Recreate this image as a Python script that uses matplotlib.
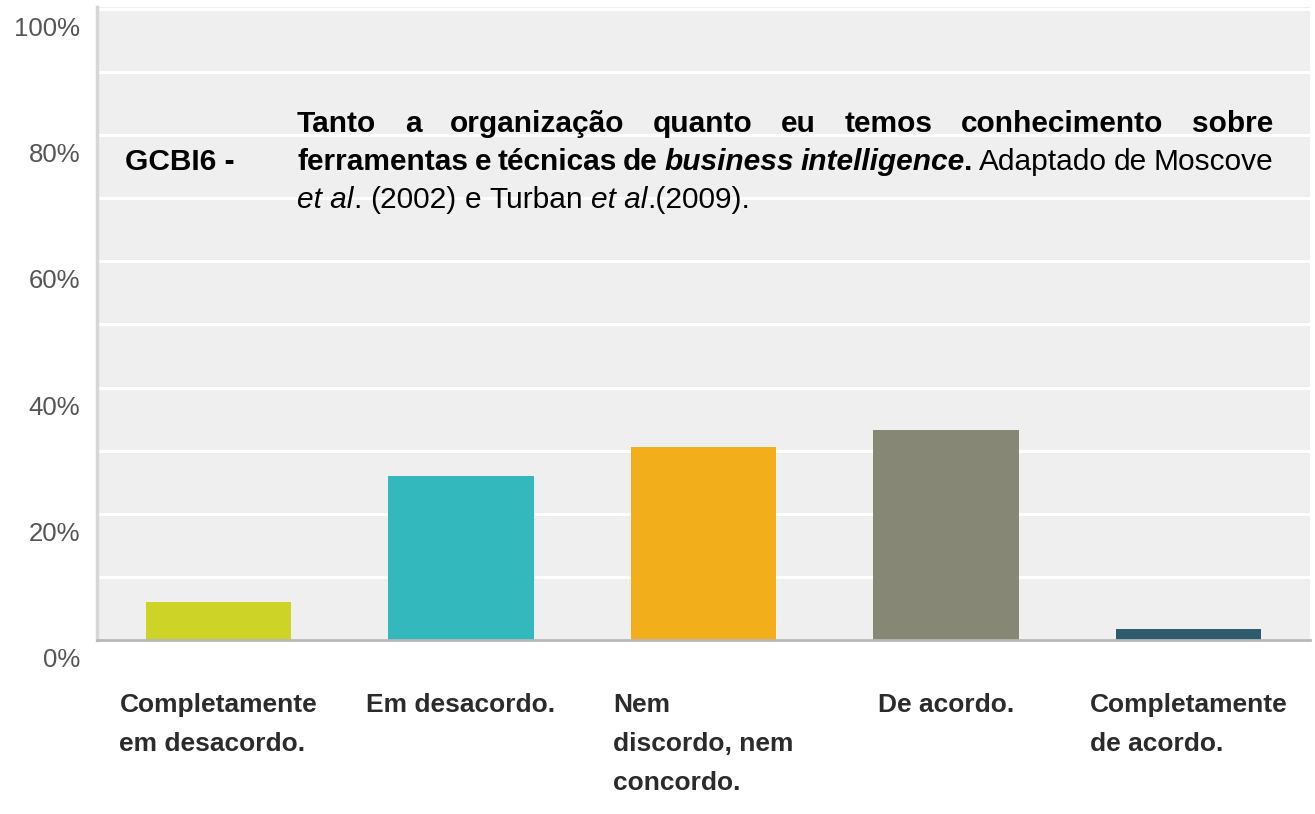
import matplotlib
matplotlib.use("Agg")
import matplotlib.pyplot as plt
from matplotlib import transforms

# ---- data ----
categories = ["Completamente\nem desacordo.", "Em desacordo.", "Nem\ndiscordo, nem\nconcordo.",
              "De acordo.", "Completamente\nde acordo."]
values = [6.0, 26.0, 30.6, 33.2, 1.7]
colors = ["#CDD327", "#33B8BD", "#F3AE1B", "#878776", "#2E5C6C"]
yticks = [0, 20, 40, 60, 80, 100]
ytick_labels = ["0%", "20%", "40%", "60%", "80%", "100%"]

code_label = "GCBI6 -"
line1_words = ["Tanto", "a", "organização", "quanto", "eu", "temos", "conhecimento", "sobre"]
line2_words = [[("ferramentas", "b")], [("e", "b")], [("técnicas", "b")], [("de", "b")],
               [("business", "bi")], [("intelligence", "bi"), (".", "b")],
               [("Adaptado", "r")], [("de", "r")], [("Moscove", "r")]]
line3_words = [[("et al", "i"), (".", "r")], [("(2002)", "r")], [("e", "r")], [("Turban", "r")],
               [("et al", "i"), (".(2009).", "r")]]

W, H = 1315, 814
DPI = 100
FONT = "Liberation Sans"
fig = plt.figure(figsize=(W / DPI, H / DPI), dpi=DPI, facecolor="white")

ax = fig.add_axes([97 / W, (H - 640) / H, 1213 / W, 633 / H])
ax.set_facecolor("#EFEFEF")
x = list(range(len(categories)))
ax.bar(x, values, width=0.6, color=colors, zorder=3)
ax.set_xlim(-0.5, len(categories) - 0.5)
ax.set_ylim(0, 100.3)

# grid every 10%
ax.set_yticks(yticks)
ax.set_yticks(list(range(10, 100, 10)), minor=True)
ax.grid(True, axis="y", which="both", color="white", linewidth=2.2, zorder=1)
ax.tick_params(axis="both", which="both", length=0)
ax.set_axisbelow(True)

for s in ["top", "right"]:
    ax.spines[s].set_visible(False)
ax.spines["left"].set_color("#D6D6D6")
ax.spines["left"].set_linewidth(2.5)
ax.spines["bottom"].set_color("#B8B8B8")
ax.spines["bottom"].set_linewidth(2.0)
ax.spines["bottom"].set_zorder(4)

# y tick labels, shifted below their gridline like the reference
ax.set_yticklabels(ytick_labels, fontsize=18.5, color="#555555", family=FONT)
ax.tick_params(axis="y", pad=12)
off = transforms.ScaledTranslation(0, -27 / DPI, fig.dpi_scale_trans)
for lbl in ax.get_yticklabels():
    lbl.set_transform(lbl.get_transform() + off)
    lbl.set_va("baseline")

# x tick labels
ax.set_xticks(x)
ax.set_xticklabels(categories, fontsize=19, fontweight="bold", color="#2B2B2B", family=FONT,
                   ha="center", multialignment="left", linespacing=1.8)
ax.tick_params(axis="x", pad=38)

# ---- title block (justified text) ----
renderer = fig.canvas.get_renderer()
styles = {
    "b": dict(fontweight="bold", fontstyle="normal"),
    "bi": dict(fontweight="bold", fontstyle="italic"),
    "r": dict(fontweight="normal", fontstyle="normal"),
    "i": dict(fontweight="normal", fontstyle="italic"),
}
TSIZE = 21.5


def run_width(text, st):
    t = fig.text(0, 0, text, fontsize=TSIZE, family=FONT, **styles[st])
    w = t.get_window_extent(renderer).width
    t.remove()
    return w


def word_width(word):
    return sum(run_width(tx, st) for tx, st in word)


def draw_word(word, xp, yb):
    for tx, st in word:
        fig.text(xp / W, (H - yb) / H, tx, fontsize=TSIZE, family=FONT, color="black",
                 va="baseline", ha="left", **styles[st])
        xp += run_width(tx, st)


def draw_line(words, x0, x1, yb, justify=True):
    widths = [word_width(w) for w in words]
    space = run_width("a a", "r") - 2 * run_width("a", "r")
    if justify and len(words) > 1:
        gap = (x1 - x0 - sum(widths)) / (len(words) - 1)
    else:
        gap = space
    xp = x0
    for w, wd in zip(words, widths):
        draw_word(w, xp, yb)
        xp += wd + gap


fig.text(125 / W, (H - 170) / H, code_label, fontsize=TSIZE, family=FONT, fontweight="bold",
         va="baseline", ha="left")
draw_line([[(w, "b")] for w in line1_words], 297, 1273, 131.5)
draw_line(line2_words, 297, 1273, 170)
draw_line(line3_words, 297, 1273, 208, justify=False)

fig.savefig("out.png", dpi=DPI, facecolor="white")
